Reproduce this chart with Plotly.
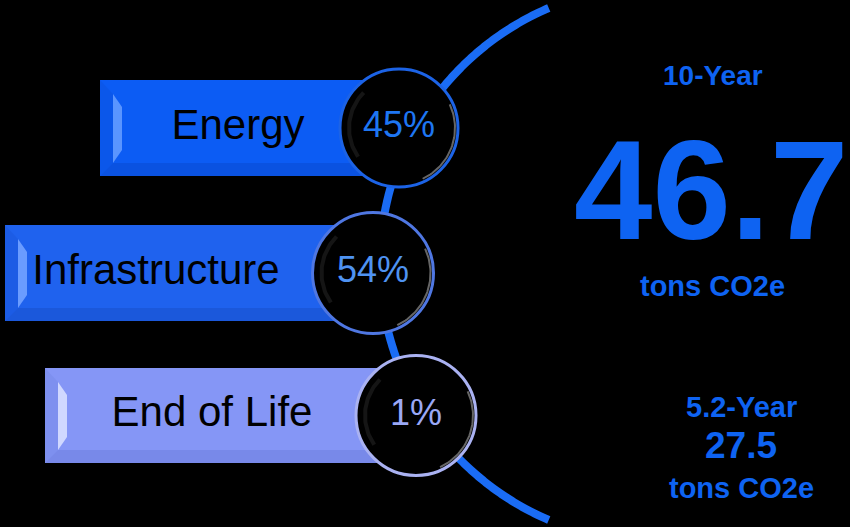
import numpy as np
import plotly.graph_objects as go

# ---- data ----
categories = ["Energy", "Infrastructure", "End of Life"]
shares = [45, 54, 1]
periods = ["10-Year", "5.2-Year"]
totals = [46.7, 27.5]
unit = "tons CO2e"

# ---- layout (pixel-like coordinates, not data) ----
W, H = 850, 527
bar_left = [100, 5, 45]
bar_right = [399, 373, 417]
bar_mid = [128, 273, 415.5]
bar_h = [96, 96, 95]
label_x = [238, 156, 212]
circ_x = [399, 373, 416]
circ_d = [118, 121, 120]
bar_colors = ["#0c5cf4", "#1f62ee", "#8596f6"]
bevel_light = ["#5a95ff", "#6a9cff", "#d0d8ff"]
bevel_dark = ["#0a50dc", "#1a56d6", "#7486e6"]
ring_colors = ["#1c63e6", "#4f77e2", "#aab2f2"]
pct_colors = ["#1e76f2", "#4f93f2", "#9aa8f6"]
arc_c = (658.4, 264.0)
arc_r = 278.5
arc_y = (8, 520)

fig = go.Figure()

# arc
ys = np.linspace(arc_y[0], arc_y[1], 400)
xs = arc_c[0] - np.sqrt(arc_r**2 - (ys - arc_c[1])**2)
fig.add_trace(go.Scatter(x=xs, y=ys, mode="lines",
                         line=dict(color="#1a6cf5", width=8, simplify=False),
                         hoverinfo="skip", showlegend=False))

# bars
fig.add_trace(go.Bar(
    orientation="h",
    y=bar_mid,
    x=[r - l for l, r in zip(bar_left, bar_right)],
    base=bar_left,
    width=bar_h,
    marker=dict(color=bar_colors, line=dict(width=0)),
    hovertext=categories, hoverinfo="text", showlegend=False))

# bevel polygons (above bars, below circles)
def poly(px, py, color, opacity=1.0):
    fig.add_trace(go.Scatter(x=px, y=py, mode="lines", fill="toself",
                             fillcolor=color, line=dict(width=0), opacity=opacity,
                             hoverinfo="skip", showlegend=False))

for l, r, m, h, lc, dc in zip(bar_left, bar_right, bar_mid, bar_h, bevel_light, bevel_dark):
    top, bot = m - h / 2, m + h / 2
    poly([l, l + 13, r, r, l], [bot, bot - 13, bot - 13, bot, bot], dc, 0.8)
    poly([l, l + 13, l + 13, l, l], [top, top + 14, bot - 13, bot, top], dc, 0.4)
    poly([l + 13, l + 22, l + 22, l + 13, l + 13],
         [top + 14, top + 27, bot - 26, bot - 13, top + 14], lc)

# bar labels
fig.add_trace(go.Scatter(x=label_x, y=bar_mid, mode="text", text=categories,
                         textposition="middle center",
                         textfont=dict(family="Liberation Sans, Arial", size=42, color="#000000"),
                         hoverinfo="skip", showlegend=False))

# circles
fig.add_trace(go.Scatter(x=circ_x, y=bar_mid, mode="markers",
                         marker=dict(size=circ_d, color="#000000", opacity=1,
                                     line=dict(color=ring_colors, width=3)),
                         hoverinfo="skip", showlegend=False))

# subtle gloss on circles
for cx, cy, d in zip(circ_x, bar_mid, circ_d):
    r = d / 2
    t = np.radians(np.linspace(-25, 65, 40))
    fig.add_trace(go.Scatter(x=cx + (r - 3) * np.cos(t), y=cy + (r - 3) * np.sin(t),
                             mode="lines", line=dict(color="rgba(255,255,255,0.4)", width=2),
                             hoverinfo="skip", showlegend=False))
    t = np.radians(np.linspace(145, 225, 40))
    fig.add_trace(go.Scatter(x=cx + (r - 9) * np.cos(t), y=cy + (r - 9) * np.sin(t),
                             mode="lines", line=dict(color="rgba(160,160,160,0.13)", width=4),
                             hoverinfo="skip", showlegend=False))

# percentages
fig.add_trace(go.Scatter(x=circ_x, y=bar_mid, mode="text",
                         text=[f"{s}%" for s in shares],
                         textposition="middle center",
                         textfont=dict(family="Liberation Sans, Arial", size=36, color=pct_colors),
                         hoverinfo="skip", showlegend=False))

# right side summary
blue = "#0e63f2"
ann = [
    dict(x=713, y=75, text=periods[0], size=28),
    dict(x=711, y=190, text=f"{totals[0]}", size=141),
    dict(x=712, y=286, text=unit, size=29),
    dict(x=741, y=407, text=periods[1], size=29),
    dict(x=741, y=445, text=f"{totals[1]}", size=37),
    dict(x=741, y=488, text=unit, size=29),
]
for a in ann:
    fig.add_annotation(x=a["x"], y=a["y"], xref="x", yref="y", text=a["text"],
                       showarrow=False, xanchor="center", yanchor="middle",
                       font=dict(family="Liberation Sans, Arial", size=a["size"],
                                 color=blue, weight="bold"))

fig.update_layout(
    width=W, height=H,
    margin=dict(l=0, r=0, t=0, b=0),
    paper_bgcolor="#000000", plot_bgcolor="#000000",
    xaxis=dict(range=[0, W], visible=False, fixedrange=True),
    yaxis=dict(range=[H, 0], visible=False, fixedrange=True),
    bargap=0,
)
fig.write_html("out.html", config={"displayModeBar": False},
               post_script="document.body.style.margin='0';document.body.style.background='#000';")
